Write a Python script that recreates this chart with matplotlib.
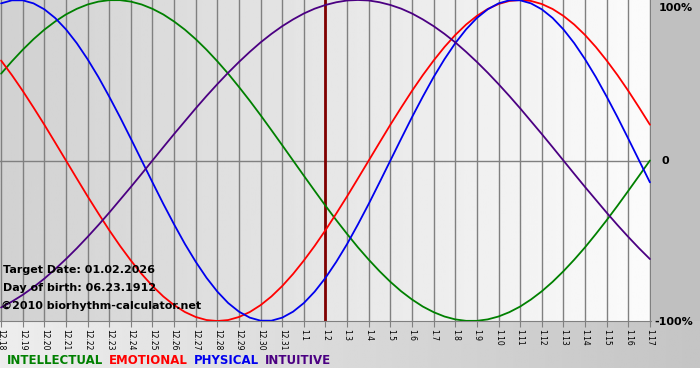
import matplotlib
matplotlib.use("Agg")
import matplotlib.pyplot as plt
import numpy as np

# dates on the x axis, one per day
day_labels = ["12.18", "12.19", "12.20", "12.21", "12.22", "12.23", "12.24", "12.25",
              "12.26", "12.27", "12.28", "12.29", "12.30", "12.31", "1.1", "1.2", "1.3",
              "1.4", "1.5", "1.6", "1.7", "1.8", "1.9", "1.10", "1.11", "1.12", "1.13",
              "1.14", "1.15", "1.16", "1.17"]
target_index = 15  # 1.2

# values every half day, -1..1
physical = [0.979, 0.998, 0.998, 0.979, 0.942, 0.888, 0.817, 0.731, 0.631, 0.520,
            0.398, 0.270, 0.136, 0.0, -0.136, -0.270, -0.398, -0.520, -0.631, -0.731,
            -0.817, -0.888, -0.942, -0.979, -0.998, -0.998, -0.979, -0.942, -0.888, -0.817,
            -0.731, -0.631, -0.520, -0.398, -0.270, -0.136, 0.0, 0.136, 0.270, 0.398,
            0.520, 0.631, 0.731, 0.817, 0.888, 0.942, 0.979, 0.998, 0.998, 0.979,
            0.942, 0.888, 0.817, 0.731, 0.631, 0.520, 0.398, 0.270, 0.136, 0.0, -0.136]
emotional = [0.623, 0.532, 0.434, 0.330, 0.223, 0.112, 0.0, -0.112, -0.223, -0.330,
             -0.434, -0.532, -0.623, -0.707, -0.782, -0.847, -0.901, -0.944, -0.975, -0.994,
             -1.0, -0.994, -0.975, -0.944, -0.901, -0.847, -0.782, -0.707, -0.623, -0.532,
             -0.434, -0.330, -0.223, -0.112, 0.0, 0.112, 0.223, 0.330, 0.434, 0.532,
             0.623, 0.707, 0.782, 0.847, 0.901, 0.944, 0.975, 0.994, 1.0, 0.994,
             0.975, 0.944, 0.901, 0.847, 0.782, 0.707, 0.623, 0.532, 0.434, 0.330, 0.223]
intellectual = [0.541, 0.618, 0.690, 0.756, 0.815, 0.866, 0.910, 0.945, 0.972, 0.990,
                0.999, 0.999, 0.990, 0.972, 0.945, 0.910, 0.866, 0.815, 0.756, 0.690,
                0.618, 0.541, 0.458, 0.372, 0.282, 0.189, 0.095, 0.0, -0.095, -0.189,
                -0.282, -0.372, -0.458, -0.541, -0.618, -0.690, -0.756, -0.815, -0.866, -0.910,
                -0.945, -0.972, -0.990, -0.999, -0.999, -0.990, -0.972, -0.945, -0.910, -0.866,
                -0.815, -0.756, -0.690, -0.618, -0.541, -0.458, -0.372, -0.282, -0.189, -0.095, 0.0]
intuitive = [-0.916, -0.879, -0.837, -0.789, -0.736, -0.677, -0.614, -0.547, -0.476, -0.402,
             -0.325, -0.245, -0.165, -0.083, 0.0, 0.083, 0.165, 0.245, 0.325, 0.402,
             0.476, 0.547, 0.614, 0.677, 0.736, 0.789, 0.837, 0.879, 0.916, 0.946,
             0.969, 0.986, 0.997, 1.0, 0.997, 0.986, 0.969, 0.946, 0.916, 0.879,
             0.837, 0.789, 0.736, 0.677, 0.614, 0.547, 0.476, 0.402, 0.325, 0.245,
             0.165, 0.083, 0.0, -0.083, -0.165, -0.245, -0.325, -0.402, -0.476, -0.547, -0.614]

series = [("INTELLECTUAL", intellectual, "#008000"),
          ("EMOTIONAL", emotional, "#ff0000"),
          ("PHYSICAL", physical, "#0000ee"),
          ("INTUITIVE", intuitive, "#4b0082")]

W, H = 700, 380
fig = plt.figure(figsize=(7, 3.8), dpi=100)
fig.patch.set_facecolor("white")

# background pieces in pixel coordinates
bg = fig.add_axes([0, 0, 1, 1])
bg.axis("off")
bg.add_patch(plt.Rectangle((651, 0), 49, 321, color="#c0c0c0", lw=0))
grad = np.linspace(0.93, 0.77, 256).reshape(1, -1)
bg.imshow(grad, extent=(0, W, 368, 321), cmap="gray", vmin=0, vmax=1, aspect="auto")
bg.set_xlim(0, W)
bg.set_ylim(H, 0)

ax = fig.add_axes([0, (H - 321) / H, 651 / W, 321 / H])
n = len(day_labels)
x = np.arange(n)
xs = np.arange(len(physical)) / 2.0
ax.set_xlim(-0.05, n - 1 + 0.05)
ax.set_ylim(-1.0, 1.0)
plot_grad = np.linspace(0.82, 0.985, 256).reshape(1, -1)
ax.imshow(plot_grad, extent=(-0.05, n - 1 + 0.05, -1, 1), cmap="gray", vmin=0, vmax=1,
          aspect="auto", zorder=0)

for i in x:
    ax.axvline(i, color="#808080", lw=1, zorder=1)
ax.axhline(0, color="#808080", lw=1, zorder=1)
ax.axvline(target_index, color="#800000", lw=2, zorder=2)

for name, vals, col in series:
    ax.plot(xs, vals, color=col, lw=1.3, zorder=3, solid_capstyle="round")

for s in ["top", "right", "left"]:
    ax.spines[s].set_visible(False)
ax.spines["bottom"].set_color("#808080")
ax.set_yticks([])
ax.set_xticks(x)
ax.set_xticklabels(day_labels, rotation=-90, fontsize=5.5)
ax.tick_params(axis="x", length=4, color="#808080", pad=2)

# right-hand percent labels
fig.text(659 / W, 1 - 8 / H, "100%", fontsize=8, fontweight="bold", va="center")
fig.text(661 / W, 1 - 161 / H, "0", fontsize=8, fontweight="bold", va="center")
fig.text(654 / W, 1 - 322 / H, "-100%", fontsize=8, fontweight="bold", va="center")

# info text
ax.text(3 / 651, (321 - 270) / 321, "Target Date: 01.02.2026", transform=ax.transAxes,
        fontsize=8, fontweight="bold", va="center", zorder=4)
ax.text(3 / 651, (321 - 288) / 321, "Day of birth: 06.23.1912", transform=ax.transAxes,
        fontsize=8, fontweight="bold", va="center", zorder=4)
ax.text(1 / 651, (321 - 306) / 321, "\u00a92010 biorhythm-calculator.net", transform=ax.transAxes,
        fontsize=8, fontweight="bold", va="center", zorder=4)

# legend row
xpos = 7
for name, vals, col in series:
    t = fig.text(xpos / W, 1 - 361 / H, name, color=col, fontsize=8.5,
                 fontweight="bold", va="center")
    fig.canvas.draw()
    bb = t.get_window_extent()
    xpos = bb.x1 + 6

fig.savefig("out.png", dpi=100)
